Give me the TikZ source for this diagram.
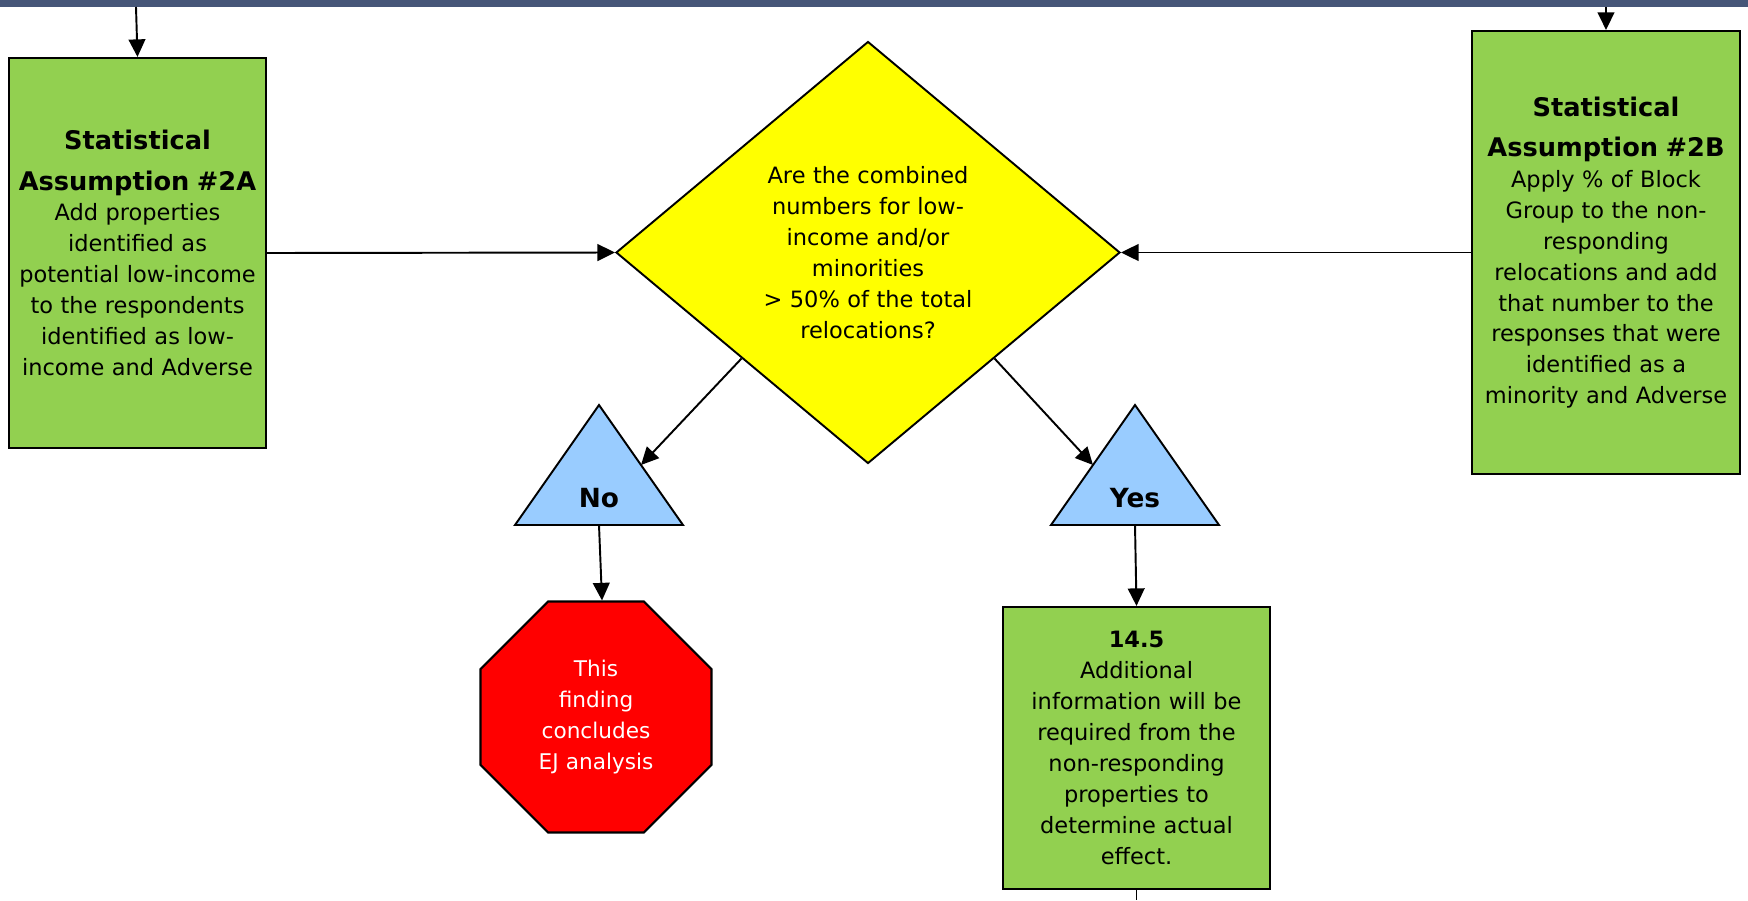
\documentclass[tikz,border=0pt]{standalone}
\usepackage{fontspec}
\setmainfont{DejaVu Sans}
\usetikzlibrary{shapes.geometric,arrows.meta,calc}
\definecolor{boxgreen}{HTML}{92D050}
\definecolor{askyellow}{HTML}{FFFF00}
\definecolor{branchblue}{HTML}{99CCFF}
\definecolor{stopred}{HTML}{FF0000}
\definecolor{bandslate}{HTML}{465678}
\newcommand\boxtext{\fontsize{12.8}{17.6}\selectfont}
\newcommand\boxhead{\fontsize{14.6}{23}\selectfont\bfseries}
\tikzset{
  arr/.style = {line width=1.1pt, -{Triangle[length=10pt,width=9.5pt]}},
  greenbox/.style = {draw, line width=1.2pt, fill=boxgreen, align=center, inner sep=0pt, font=\boxtext},
  tri/.style = {draw, line width=1.1pt, fill=branchblue, line join=miter},
  trilabel/.style = {font=\fontsize{15}{18}\selectfont\bfseries, inner sep=0pt}
}
\begin{document}
\begin{tikzpicture}[x=0.02cm, y=-0.02cm]
  \def\unit{0.02cm}
  \useasboundingbox (0,0) rectangle (1748,900);
  \fill[bandslate] (0,0) rectangle (1748,7);
  \node[greenbox, text width=5.0cm, minimum width={257*\unit}, minimum height={390*\unit}] (boxa) at (137.5,253)
    {{\boxhead Statistical\\ Assumption \#2A\par}Add properties\\ identified as\\ potential low-income\\ to the respondents\\ identified as low-\\ income and Adverse};
  \node[greenbox, text width=5.2cm, minimum width={268*\unit}, minimum height={443*\unit}] (boxb) at (1606,252.5)
    {{\boxhead Statistical\\ Assumption \#2B\par}Apply \% of Block\\ Group to the non-\\ responding\\ relocations and add\\ that number to the\\ responses that were\\ identified as a\\ minority and Adverse};
  \node[diamond, draw, line width=1.1pt, fill=askyellow, inner sep=0pt, align=center, text width=5cm, font=\boxtext,
    minimum width={504*\unit}, minimum height={415*\unit}] (decide) at (868,252.5)
    {Are the combined\\ numbers for low-\\ income and/or\\ minorities\\ > 50\% of the total\\ relocations?};
  \foreach \tname/\tx/\ttext in {no/599/No, yes/1135/Yes} {
    \coordinate (\tname top) at (\tx,405);
    \coordinate (\tname left) at ({\tx-84},525);
    \coordinate (\tname right) at ({\tx+84},525);
    \draw[tri] (\tname left) -- (\tname top) -- (\tname right) -- cycle;
    \node[trilabel] (\tname) at (\tx,498) {\ttext};
  }
  \node[regular polygon, regular polygon sides=8, draw, line width=1.2pt, fill=stopred, text=white, inner sep=0pt,
    align=center, text width=2.3cm, font=\fontsize{12.3}{17.8}\selectfont, minimum size={250*\unit}] (stop) at (596,717)
    {This\\ finding\\ concludes\\ EJ analysis};
  \node[greenbox, text width=5.2cm, minimum width={267*\unit}, minimum height={282*\unit}] (info) at (1136.5,748)
    {{\bfseries 14.5}\\ Additional\\ information will be\\ required from the\\ non-responding\\ properties to\\ determine actual\\ effect.};
  \coordinate (ina) at (136,7);
  \coordinate (inb) at (1606,7);
  \coordinate (outinfo) at (1136.5,900);
  \draw[arr] (ina) -- (boxa.north);
  \draw[arr] (inb) -- (boxb.north);
  \draw[arr] (boxa.east) -- (decide.west);
  \draw[arr] (boxb.west) -- (decide.east);
  \draw[arr] (decide.south west) -- ($(notop)!.5!(noright)$);
  \draw[arr] (decide.south east) -- ($(yestop)!.5!(yesleft)$);
  \draw[arr] ($(noleft)!.5!(noright)$) -- ($(stop.north)+(6,0)$);
  \draw[arr] ($(yesleft)!.5!(yesright)$) -- (info.north);
  \draw[line width=1.1pt] (info.south) -- (outinfo);
\end{tikzpicture}
\end{document}
